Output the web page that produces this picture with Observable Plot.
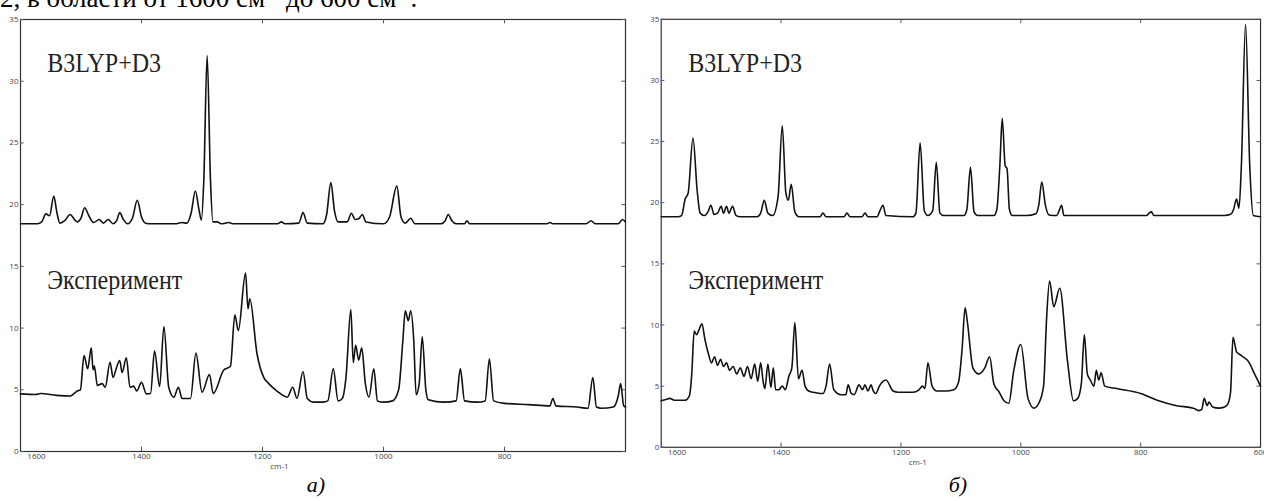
<!DOCTYPE html>
<html>
<head>
<meta charset="utf-8">
<script src="https://cdn.jsdelivr.net/npm/d3@7"></script>
<script src="https://cdn.jsdelivr.net/npm/@observablehq/plot@0.6"></script>
<style>
  html, body { margin: 0; padding: 0; background: #fff; }
  body { width: 1264px; height: 501px; overflow: hidden; position: relative;
         font-family: "Liberation Serif", "DejaVu Serif", serif; }
  #lead { position: absolute; left: 0; top: -15px; font-size: 27px; line-height: 27px;
          white-space: nowrap; z-index: 2; color: #000; }
  #lead sup { font-size: 17px; vertical-align: baseline; position: relative; top: -0.55em; line-height: 0; }
  .panel { position: absolute; top: 0; }
  .cap { position: absolute; top: 474px; font-style: italic; font-size: 22px;
         line-height: 22px; transform: translateX(-50%); }
  .name { position: absolute; font-family: "Liberation Serif", "DejaVu Serif", serif;
          font-size: 24px; line-height: 24px; white-space: nowrap; color: #222;
          transform: scaleY(1.1); transform-origin: 0 20px; }
</style>
</head>
<body>
<div id="lead">2, в области от 1600 см<sup>-1</sup> до 600 см<sup>-1</sup>.</div>
<div id="left" class="panel" style="left:0px"></div>
<div id="right" class="panel" style="left:630px"></div>
<div class="cap" style="left:316px">а)</div>
<div class="cap" style="left:958px">б)</div>
<script>
// Wavenumber axis (cm-1) and intensity axis ticks
const yTicks = [0, 5, 10, 15, 20, 25, 30, 35];
const xTicksLeft = [1400, 1200, 1000, 800];
const xTicksRight = [1400, 1200, 1000, 800, 600];
const xTickMarks = [1400, 1200, 1000, 800];
const xLabel = "cm-1";
const calcName = "B3LYP+D3";
const expName = "Эксперимент";

// Panel а): calculated spectrum (B3LYP+D3)
const calcA_x = [1600,1572,1565,1558,1552,1545,1540,1535,1527,1518,1510,1506,1500,1494,1487,1479,1470,1463,1455,1447,1441,1436,1430,1423,1415,1407,1400,1393,1385,1345,1333,1325,1318,1311,1305,1301,1297,1291.5,1286,1282,1275,1268,1256,1248,1175,1169,1163,1140,1133,1126,1100,1094,1087,1081,1075,1060,1053,1047,1041,1035,1029,1000,990,978,971,964,955,948,905,898,893,887,880,866,862,858,730,725,720,665,657,650,612,605,600];
const calcA_y = [18.45,18.45,18.6,19.25,19.1,20.7,19.4,18.5,18.7,19.2,18.75,18.6,18.9,19.75,19.1,18.55,18.8,18.5,18.8,18.45,18.7,19.35,18.8,18.45,18.9,20.35,19.0,18.5,18.45,18.45,18.55,18.5,19.3,21.1,19.6,18.75,22.0,32.08,22.0,18.6,18.6,18.45,18.55,18.45,18.45,18.6,18.45,18.5,19.35,18.5,18.45,19.2,21.8,19.5,18.6,18.6,19.3,18.8,18.85,19.2,18.6,18.45,19.0,21.5,19.0,18.5,18.9,18.45,18.45,18.7,19.2,18.7,18.45,18.45,18.7,18.45,18.45,18.55,18.45,18.45,18.7,18.45,18.45,18.8,18.6];

// Panel а): experimental spectrum
const expA_x = [1600,1575,1567,1540,1517,1512,1506,1501,1495,1489,1483,1480,1478,1473,1465,1460,1452,1447,1441,1436,1432,1425,1419,1413,1408,1400,1392,1385,1378.5,1370,1363,1355,1346.6,1339,1333,1319,1310,1300,1287.6,1281.5,1264,1253,1245.7,1240,1228,1224,1221,1209,1198,1189.6,1176,1159,1150,1143,1133,1126,1115,1100,1092,1083,1075,1068,1062,1054,1050,1046,1041,1036,1030,1024,1016,1010,1000,985,975,968,964,959,955,950,946,941,936,930,926,900,880,873,866,845,832,825,818,800,760,725,720,715,680,662,654,648,640,620,612,608,603,600];
const expA_y = [4.67,4.62,4.7,4.55,4.5,4.67,4.9,5.0,7.78,6.7,8.4,6.6,6.95,5.35,5.5,5.2,7.23,6.0,6.85,7.37,6.4,7.6,5.2,5.3,4.9,5.6,4.67,4.7,8.13,5.27,10.13,5.2,4.4,5.2,4.3,4.3,7.97,4.8,6.24,4.7,6.6,6.9,11.07,9.8,14.45,11.56,12.37,7.9,6.0,5.5,4.9,4.4,5.2,4.3,6.48,4.3,4.0,4.0,4.1,6.7,4.1,4.3,6.0,11.5,7.2,8.6,7.4,8.4,5.5,4.4,6.7,4.1,4.0,4.1,5.0,9.0,11.4,10.6,11.4,9.0,4.6,5.5,9.3,5.0,4.2,4.0,4.1,6.7,4.1,4.0,4.1,7.5,4.1,3.9,3.8,3.7,4.3,3.7,3.6,3.5,6.0,3.6,3.5,3.6,4.5,5.5,3.7,3.6];

// Panel б): calculated spectrum (B3LYP+D3)
const calcB_x = [1600,1572,1566,1560,1555,1547,1540,1535,1528,1522,1517,1512,1506,1500,1496,1491,1487,1481,1475,1468,1440,1434,1428,1422,1414,1405,1398,1392,1388,1383,1377,1370,1335,1330,1325,1295,1290,1285,1265,1260,1255,1240,1235,1230,1225,1180,1175,1168,1161,1155,1147,1141,1135,1129,1122,1095,1090,1084,1078,1072,1045,1040,1035,1031,1026,1023,1019,1014,990,975,970,965,959,953,940,936,932,928,900,790,786,782,778,660,650,645,640,636,632,625,618,612,600];
const calcB_y = [18.85,18.85,18.95,20.3,20.8,25.3,21.0,19.15,18.95,19.25,19.8,19.05,19.15,19.7,19.15,19.7,19.15,19.7,18.95,18.85,18.85,19.15,20.2,19.15,18.95,20.5,26.3,20.8,20.2,21.5,19.25,18.85,18.85,19.15,18.85,18.85,19.15,18.85,18.85,19.15,18.85,18.85,19.35,19.8,18.95,18.85,19.15,24.9,19.35,18.95,19.35,23.3,19.15,18.95,18.95,18.95,19.45,22.9,19.25,18.95,18.95,19.45,23.0,26.9,23.0,22.8,19.45,18.95,18.95,19.1,19.8,21.7,19.8,19.0,18.95,19.35,19.8,18.95,18.95,18.95,19.15,19.25,18.95,18.95,19.05,19.45,20.3,19.55,23.0,34.6,23.0,18.95,18.85,18.85];

// Panel б): experimental spectrum
const expB_x = [1600,1592,1586,1578,1560,1553,1549,1545,1541,1537,1532,1527,1521,1516,1511,1506,1501,1496,1491,1486,1480,1474,1468,1462,1456,1450,1444,1439,1434,1430,1427,1422,1417,1413,1409,1404,1398,1393,1387,1382,1377,1371,1365,1360,1354,1347,1335,1330,1325,1319,1312,1300,1292,1288,1283,1278,1270,1264,1260,1255,1250,1246,1242,1236,1225,1213,1205,1190,1180,1170,1164,1160,1155,1148,1140,1125,1112,1104,1098,1093,1089,1080,1070,1060,1052,1045,1036,1028,1020,1012,1000,988,978,970,962,957,952,945,935,922,912,905,899,894,889,884,878,874,870,866,860,840,800,770,740,712,703,698,694,689,686,680,670,660,655,650,646,640,632,620,610,600];
const expB_y = [3.8,3.9,4.0,3.85,3.85,4.2,6.0,9.5,9.2,9.6,10.1,8.8,7.6,6.9,7.4,6.7,7.2,6.6,6.9,6.3,6.6,6.0,6.5,5.8,6.6,5.6,6.8,5.4,6.9,5.4,4.8,6.8,4.9,6.5,4.7,4.7,5.0,4.7,5.8,6.5,10.2,5.6,6.3,5.0,4.6,4.5,4.4,4.4,5.0,6.8,4.7,4.3,4.3,5.1,4.4,4.3,5.1,4.7,5.1,4.6,5.1,4.6,4.4,5.0,5.5,4.6,4.5,4.5,4.5,4.7,5.0,4.8,6.9,5.0,4.6,4.6,4.7,5.3,8.0,11.4,10.2,6.5,6.0,6.5,7.4,5.2,4.5,3.8,3.6,6.2,8.4,4.0,3.2,3.6,5.0,10.5,13.6,11.5,13.0,7.0,3.8,4.0,5.2,9.2,6.0,5.5,5.0,6.3,5.5,6.1,5.0,4.8,4.4,3.8,3.4,3.2,3.0,3.1,4.0,3.4,3.7,3.3,3.2,3.3,3.5,4.5,9.0,7.8,7.5,7.0,6.0,5.0,4.2,3.8];

// Where each spectrum name sits, in data coordinates (left end of its baseline)
const calcNameAt = [1555, 30.7];
const expNameAt = [1555, 13.15];

const plain = d => String(d);

function panel({calcX, calcY, expX, expY, xTicks, width, marginLeft, marginRight}) {
  const lineStyle = {curve: "monotone-x", stroke: "#111", strokeWidth: 1.6};
  return Plot.plot({
    width, height: 480,
    marginLeft, marginRight, marginTop: 19, marginBottom: 29,
    style: {background: "transparent", color: "#444", fontFamily: "'Open Sans', 'DejaVu Sans', sans-serif"},
    x: {domain: [1600, 600]},
    y: {domain: [0, 35]},
    marks: [
      Plot.frame({stroke: "#333", strokeWidth: 1.2}),
      // inward tick marks on all four sides
      Plot.ruleX(xTickMarks, {x: d => d, y1: 0, y2: 0.35, stroke: "#555"}),
      Plot.ruleX(xTickMarks, {x: d => d, y1: 34.65, y2: 35, stroke: "#555"}),
      Plot.ruleY(yTicks, {y: d => d, x1: 1600, x2: 1594, stroke: "#555"}),
      Plot.ruleY(yTicks, {y: d => d, x1: 600, x2: 606, stroke: "#555"}),
      Plot.axisY(yTicks, {tickSize: 0, tickPadding: 2, fontSize: 8, label: null, tickFormat: plain}),
      Plot.axisX(xTicks, {tickSize: 0, tickPadding: 2, fontSize: 8, label: null, tickFormat: plain}),
      Plot.axisX([1600], {tickSize: 0, tickPadding: 2, fontSize: 8, dx: 16, label: null, tickFormat: plain}),
      Plot.text([xLabel], {x: 1172, y: -1.25, text: d => d, fontSize: 8, fill: "#444"}),
      Plot.line(calcX, {x: calcX, y: calcY, ...lineStyle}),
      Plot.line(expX, {x: expX, y: expY, ...lineStyle})
    ]
  });
}

// Serif spectrum names, placed through the panel's own x and y scales
function addName(container, svg, text, [x, y]) {
  const el = document.createElement("div");
  el.className = "name";
  el.textContent = text;
  el.style.left = svg.scale("x").apply(x) + "px";
  el.style.top = (svg.scale("y").apply(y) - 20) + "px";
  container.append(el);
}

const panels = [
  ["left", {calcX: calcA_x, calcY: calcA_y, expX: expA_x, expY: expA_y,
            xTicks: xTicksLeft, width: 630, marginLeft: 20, marginRight: 5}],
  ["right", {calcX: calcB_x, calcY: calcB_y, expX: expB_x, expY: expB_y,
             xTicks: xTicksRight, width: 640, marginLeft: 31, marginRight: 4}]
];
for (const [id, opts] of panels) {
  const container = document.getElementById(id);
  const svg = panel(opts);
  container.append(svg);
  addName(container, svg, calcName, calcNameAt);
  addName(container, svg, expName, expNameAt);
}
</script>
</body>
</html>
